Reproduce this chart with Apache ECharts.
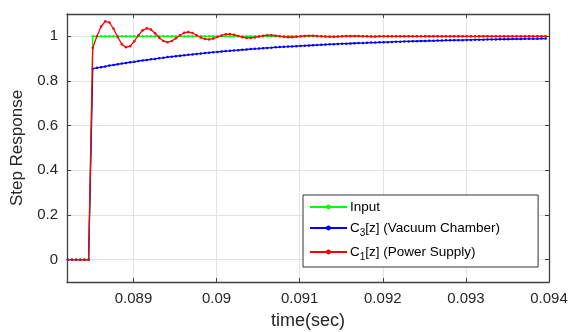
<!DOCTYPE html>
<html>
<head>
<meta charset="utf-8">
<script src="https://cdn.jsdelivr.net/npm/echarts@6/dist/echarts.min.js"></script>
<style>
  html, body { margin: 0; padding: 0; background: #fff; }
  #chart { width: 569px; height: 332px; }
</style>
</head>
<body>
<div id="chart"></div>
<script>
// sample clock of the simulation (20 kHz)
const tStart = 0.08821
const tStep = 0.00005

const xTicks = [0.089, 0.09, 0.091, 0.092, 0.093, 0.094]
const yTicks = [0, 0.2, 0.4, 0.6, 0.8, 1]

const inputValues = [
  0, 0, 0, 0, 0, 0,
  1, 1, 1, 1, 1, 1, 1, 1, 1, 1,
  1, 1, 1, 1, 1, 1, 1, 1, 1, 1,
  1, 1, 1, 1, 1, 1, 1, 1, 1, 1,
  1, 1, 1, 1, 1, 1, 1, 1, 1, 1,
  1, 1, 1, 1, 1, 1, 1, 1, 1, 1,
  1, 1, 1, 1, 1, 1, 1, 1, 1, 1,
  1, 1, 1, 1, 1, 1, 1, 1, 1, 1,
  1, 1, 1, 1, 1, 1, 1, 1, 1, 1,
  1, 1, 1, 1, 1, 1, 1, 1, 1, 1,
  1, 1, 1, 1, 1, 1, 1, 1, 1, 1,
  1, 1, 1, 1, 1, 1, 1, 1, 1, 1
]

// C3[z] vacuum chamber
const c3Values = [
  0, 0, 0, 0, 0, 0,
  0.855, 0.859, 0.862, 0.865, 0.869, 0.872, 0.875, 0.878, 0.881, 0.884,
  0.886, 0.889, 0.892, 0.894, 0.897, 0.899, 0.902, 0.904, 0.907, 0.909,
  0.911, 0.913, 0.915, 0.917, 0.919, 0.921, 0.923, 0.925, 0.927, 0.929,
  0.930, 0.932, 0.934, 0.935, 0.937, 0.938, 0.940, 0.941, 0.943, 0.944,
  0.945, 0.947, 0.948, 0.949, 0.951, 0.952, 0.953, 0.954, 0.955, 0.956,
  0.957, 0.958, 0.959, 0.960, 0.961, 0.962, 0.963, 0.964, 0.965, 0.966,
  0.967, 0.967, 0.968, 0.969, 0.970, 0.970, 0.971, 0.972, 0.972, 0.973,
  0.974, 0.974, 0.975, 0.976, 0.976, 0.977, 0.977, 0.978, 0.978, 0.979,
  0.979, 0.980, 0.980, 0.981, 0.981, 0.982, 0.982, 0.983, 0.983, 0.983,
  0.984, 0.984, 0.985, 0.985, 0.985, 0.986, 0.986, 0.986, 0.987, 0.987,
  0.987, 0.988, 0.988, 0.988, 0.989, 0.989, 0.989, 0.989, 0.990, 0.990
]

// C1[z] power supply
const c1Values = [
  0, 0, 0, 0, 0, 0,
  0.949, 1.000, 1.044, 1.067, 1.062, 1.034, 0.997, 0.965, 0.951, 0.956,
  0.978, 1.005, 1.027, 1.036, 1.031, 1.014, 0.994, 0.979, 0.974, 0.979,
  0.991, 1.005, 1.016, 1.019, 1.015, 1.005, 0.995, 0.988, 0.986, 0.990,
  0.997, 1.004, 1.009, 1.010, 1.007, 1.002, 0.996, 0.993, 0.993, 0.995,
  0.999, 1.003, 1.005, 1.005, 1.003, 1.000, 0.998, 0.996, 0.996, 0.998,
  1.000, 1.002, 1.003, 1.003, 1.001, 1.000, 0.999, 0.998, 0.998, 0.999,
  1.000, 1.001, 1.001, 1.001, 1.001, 1.000, 1.000, 0.999, 0.999, 1.000,
  1, 1, 1, 1, 1, 1, 1, 1, 1, 1,
  1, 1, 1, 1, 1, 1, 1, 1, 1, 1,
  1, 1, 1, 1, 1, 1, 1, 1, 1, 1,
  1, 1, 1, 1, 1, 1, 1, 1, 1, 1
]

const times = inputValues.map((v, i) => +(tStart + i * tStep).toFixed(5))
const pairs = (vals) => vals.map((v, i) => [times[i], v])

const font = 'Liberation Sans, Arial, Helvetica, sans-serif'
const axisColor = '#404040'
const textColor = '#262626'

const chart = echarts.init(document.getElementById('chart'))

const boxAxis = {
  min: 0.0882,
  max: 0.094,
  axisLine: { show: true, onZero: false, lineStyle: { color: axisColor, width: 1.3 } },
  axisTick: { show: true, inside: true, length: 4, customValues: xTicks, lineStyle: { color: axisColor } },
  axisLabel: { show: false },
  splitLine: { show: false }
}

const seriesStyle = (name, color, vals, z) => ({
  name: name,
  type: 'line',
  data: pairs(vals),
  z: z,
  symbol: 'circle',
  symbolSize: 2.5,
  showSymbol: true,
  showAllSymbol: true,
  color: color,
  lineStyle: { color: color, width: 1.3 },
  itemStyle: { color: color },
  emphasis: { disabled: true }
})

const option = {
  animation: false,
  backgroundColor: '#fff',
  textStyle: { fontFamily: font },
  grid: { left: 67, right: 20, top: 14, bottom: 50, containLabel: false, outerBoundsMode: 'none' },
  legend: {
    orient: 'vertical',
    left: 303,
    top: 195,
    padding: [5, 38, 5, 6],
    itemGap: 7,
    itemWidth: 37,
    itemHeight: 6,
    borderColor: '#333',
    borderWidth: 1,
    backgroundColor: '#fff',
    data: ['Input', 'C3', 'C1'],
    formatter: function (name) {
      if (name === 'C3') return '{a|C}{sub|3}{a|[z] (Vacuum Chamber)}'
      if (name === 'C1') return '{a|C}{sub|1}{a|[z] (Power Supply)}'
      return '{a|' + name + '}'
    },
    textStyle: {
      color: '#000',
      fontFamily: font,
      fontSize: 13.5,
      padding: [0, 0, 0, -2],
      rich: {
        a: { fontSize: 13.5, fontFamily: font, color: '#000' },
        sub: { fontSize: 10, fontFamily: font, color: '#000', verticalAlign: 'bottom', lineHeight: 20 }
      }
    }
  },
  xAxis: [
    {
      type: 'value',
      position: 'bottom',
      min: 0.0882,
      max: 0.094,
      name: 'time(sec)',
      nameLocation: 'middle',
      nameGap: 30,
      nameTextStyle: { fontSize: 18, color: textColor, fontFamily: font },
      axisLine: { show: true, onZero: false, lineStyle: { color: axisColor, width: 1.3 } },
      axisTick: { show: true, inside: true, length: 4, customValues: xTicks, lineStyle: { color: axisColor } },
      axisLabel: { customValues: xTicks, color: textColor, fontSize: 15, margin: 9, fontFamily: font },
      splitLine: { show: true, lineStyle: { color: '#e3e3e3', width: 1 } }
    },
    Object.assign({ type: 'value', position: 'top' }, boxAxis)
  ],
  yAxis: [
    {
      type: 'value',
      position: 'left',
      min: -0.1,
      max: 1.1,
      name: 'Step Response',
      nameLocation: 'middle',
      nameGap: 38,
      nameTextStyle: { fontSize: 17, color: textColor, fontFamily: font },
      axisLine: { show: true, onZero: false, lineStyle: { color: axisColor, width: 1.3 } },
      axisTick: { show: true, inside: true, length: 4, customValues: yTicks, lineStyle: { color: axisColor } },
      axisLabel: { customValues: yTicks, color: textColor, fontSize: 15, margin: 9, fontFamily: font },
      splitLine: { show: true, lineStyle: { color: '#e3e3e3', width: 1 } }
    },
    Object.assign({}, boxAxis, {
      type: 'value',
      position: 'right',
      min: -0.1,
      max: 1.1,
      axisTick: { show: true, inside: true, length: 4, customValues: yTicks, lineStyle: { color: axisColor } }
    })
  ],
  series: [
    seriesStyle('Input', '#00ff00', inputValues, 2),
    seriesStyle('C3', '#0000ff', c3Values, 3),
    seriesStyle('C1', '#ff0000', c1Values, 4)
  ]
}

chart.setOption(option)
</script>
</body>
</html>
